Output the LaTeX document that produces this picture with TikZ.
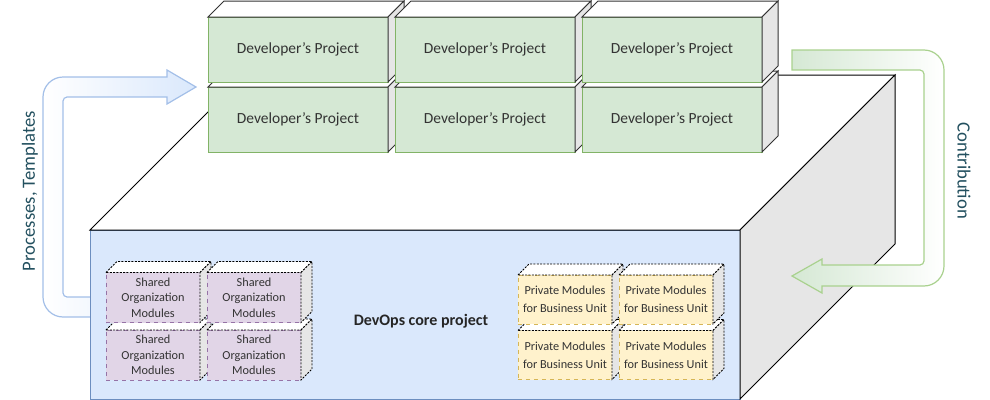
\documentclass[tikz,border=0pt]{standalone}
\usepackage{fontspec}
\setmainfont{Carlito}
\usetikzlibrary{calc}
\definecolor{devFill}{HTML}{D5E8D4}
\definecolor{devDraw}{HTML}{82B366}
\definecolor{sharedFill}{HTML}{E1D5E7}
\definecolor{sharedDraw}{HTML}{9673A6}
\definecolor{privFill}{HTML}{FFF2CC}
\definecolor{privDraw}{HTML}{D6B656}
\definecolor{coreFill}{HTML}{DAE8FC}
\definecolor{coreDraw}{HTML}{6C8EBF}
\definecolor{sideGray}{HTML}{E6E6E6}
\definecolor{edgeDark}{HTML}{333333}
\definecolor{blueArrow}{HTML}{A3BFE8}
\definecolor{greenArrow}{HTML}{A9D18E}
\definecolor{labelText}{HTML}{23505F}
\tikzset{
  front/.style   ={rectangle, outer sep=0pt, inner sep=0pt, align=center, text=edgeDark},
  devbox/.style  ={front, fill=devFill, draw=devDraw, minimum width=135pt, minimum height=48.75pt,
                   font=\fontsize{11.6}{13.5}\selectfont},
  sharedbox/.style={front, fill=sharedFill, draw=sharedDraw, dashed, minimum width=70.5pt, minimum height=37.5pt,
                   font=\fontsize{9.2}{11.6}\selectfont},
  privbox/.style ={front, fill=privFill, draw=privDraw, dashed, minimum width=70.5pt, minimum height=36.75pt,
                   font=\fontsize{9.2}{13.5}\selectfont},
  corebox/.style ={front, fill=coreFill, draw=coreDraw, minimum width=487.5pt, minimum height=126.75pt},
  solidedge/.style={draw=edgeDark, line width=0.75pt},
  dashedge/.style={draw=black, line width=0.6pt, dash pattern=on 1.5pt off 1pt},
  coreedge/.style={draw=black, line width=0.75pt},
  flow/.style    ={line width=0.9pt, font=\fontsize{14}{16}\selectfont, text=labelText},
}
% top and side faces behind a front node
\newcommand{\cubedepth}[3]{%
  \draw[#3, fill=white] (#1.north west) -- ($(#1.north west)+(#2,-#2)$)
    -- ($(#1.north east)+(#2,-#2)$) -- (#1.north east) -- cycle;
  \draw[#3, fill=sideGray] (#1.north east) -- ($(#1.north east)+(#2,-#2)$)
    -- ($(#1.south east)+(#2,-#2)$) -- (#1.south east) -- cycle;
}
\begin{document}
\begin{tikzpicture}[x=0.75pt, y=-0.75pt]
  \useasboundingbox (0,0) rectangle (990,400);

  % processes arrow (behind the core cube)
  \draw[flow, draw=blueArrow, left color=white, right color=coreFill]
    (100,317) -- (63,317) .. controls (52,317) and (43,308) .. (43,297)
    -- (43,97) .. controls (43,86) and (52,77) .. (63,77)
    -- (167,77) -- (167,70) -- (196,87) -- (167,104) -- (167,97)
    -- (67,97) .. controls (65,97) and (63,99) .. (63,101)
    -- (63,293) .. controls (63,295) and (65,297) .. (67,297) -- (100,297) -- cycle;
  \node[flow, rotate=90] (proc) at (30,191) {Processes, Templates};

  % core cube
  \node[corebox] (core) at (415,314.5) {};
  \cubedepth{core}{155}{coreedge}
  \node[font=\fontsize{12}{14}\selectfont\bfseries, text=black!85] (corelabel) at (421,321) {DevOps core project};

  % developer projects, back row first
  \foreach \r/\y in {2/119.5, 1/49.5}
    \foreach \c/\x in {1/298, 2/485, 3/672} {
      \node[devbox] (dev\r\c) at (\x,\y) {Developer’s Project};
      \cubedepth{dev\r\c}{16}{solidedge}
    }

  % shared and private modules
  \foreach \r/\y in {2/355, 1/297.5}
    \foreach \c/\x in {1/153, 2/254} {
      \node[sharedbox] (shared\r\c) at (\x,\y) {Shared\\Organization\\Modules};
      \cubedepth{shared\r\c}{11}{dashedge}
    }
  \foreach \r/\y in {2/355, 1/299.5}
    \foreach \c/\x in {1/565, 2/666} {
      \node[privbox] (priv\r\c) at (\x,\y) {Private Modules\\for Business Unit};
      \cubedepth{priv\r\c}{11}{dashedge}
    }

  % contribution arrow
  \draw[flow, draw=greenArrow, left color=devFill, right color=white]
    (792,50) -- (924,50) .. controls (935,50) and (944,59) .. (944,70)
    -- (944,266) .. controls (944,277) and (935,286) .. (924,286)
    -- (822,286) -- (822,293) -- (792,276) -- (822,259) -- (822,265)
    -- (920,265) .. controls (922,265) and (924,263) .. (924,261)
    -- (924,74) .. controls (924,72) and (922,70) .. (920,70) -- (792,70) -- cycle;
  \node[flow, rotate=-90] (contrib) at (964,171) {Contribution};
\end{tikzpicture}
\end{document}
